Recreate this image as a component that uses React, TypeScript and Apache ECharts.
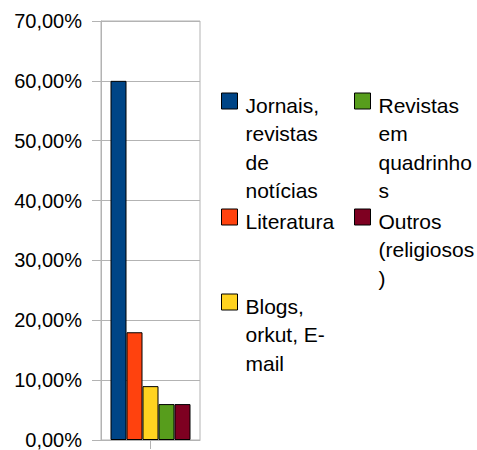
import React, { useEffect, useRef } from "react";
import * as echarts from "echarts";

const categories = [""];
const seriesNames = [
  "Jornais, revistas de notícias",
  "Literatura",
  "Blogs, orkut, E-mail",
  "Revistas em quadrinhos",
  "Outros (religiosos)",
];
const seriesLabels = [
  "Jornais,\nrevistas\nde\nnotícias",
  "Literatura",
  "Blogs,\norkut, E-\nmail",
  "Revistas\nem\nquadrinho\ns",
  "Outros\n(religiosos\n)",
];
const seriesValues = [60, 18, 9, 6, 6];
const seriesColors = ["#004586", "#ff420e", "#ffd320", "#579d1c", "#7e0021"];
const yTicks = [0, 10, 20, 30, 40, 50, 60, 70];

const FONT = "'Liberation Sans', Arial, sans-serif";
const LH = 28.5;
const D = 4;

export default function App() {
  const ref = useRef<HTMLDivElement>(null);
  useEffect(() => {
    if (!ref.current) return;
    const chart = echarts.init(ref.current, undefined, { renderer: "svg" });
    const labelOf = (name: string) => seriesLabels[seriesNames.indexOf(name)] ?? name;
    const lineCount = (name: string) => labelOf(name).split("\n").length;

    // legend placement: [series index, left, icon top]
    const legendPlaces: [number, number, number][] = [
      [0, 221, 93],
      [1, 221, 209],
      [2, 221, 294],
      [3, 354, 93],
      [4, 354, 209],
    ];
    const legends = legendPlaces.map(([i, left, iconTop]) => {
      const name = seriesNames[i];
      const n = lineCount(name);
      const P = (n - 1) * LH + 2 * D;
      const H = n * LH + P;
      const top = iconTop - (H / 2 - 8);
      return {
        show: true,
        orient: "vertical",
        left,
        top,
        padding: 0,
        itemWidth: 16,
        itemHeight: 16,
        itemGap: 0,
        selectedMode: false,
        icon: "rect",
        itemStyle: { borderColor: "#000", borderWidth: 1 },
        formatter: labelOf,
        data: [
          {
            name,
            textStyle: {
              fontFamily: FONT,
              fontSize: 21,
              color: "#000",
              lineHeight: LH,
              padding: [P, 0, 0, 3],
              backgroundColor: "transparent",
              rich: { x: {} },
            },
          },
        ],
      };
    });

    chart.setOption({
      animation: false,
      backgroundColor: "#fff",
      grid: {
        left: 101,
        top: 21,
        width: 99,
        height: 419,
        containLabel: false,
        outerBoundsMode: "none",
        show: true,
        borderColor: "#b3b3b3",
        borderWidth: 1,
      },
      legend: legends,
      xAxis: {
        type: "category",
        data: categories,
        axisLine: { show: true, lineStyle: { color: "#b3b3b3", width: 1 } },
        axisTick: { show: true, alignWithLabel: true, length: 9, lineStyle: { color: "#b3b3b3" } },
        axisLabel: { show: false },
        splitLine: { show: false },
      },
      yAxis: {
        type: "value",
        min: yTicks[0],
        max: yTicks[yTicks.length - 1],
        interval: 10,
        axisLine: { show: true, lineStyle: { color: "#b3b3b3", width: 1 } },
        axisTick: { show: true, length: 9, lineStyle: { color: "#b3b3b3" } },
        splitLine: { show: true, lineStyle: { color: "#b3b3b3", width: 1 } },
        axisLabel: {
          margin: 19,
          fontFamily: FONT,
          fontSize: 20,
          color: "#000",
          formatter: (v: number) => v.toFixed(2).replace(".", ",") + "%",
        },
      },
      series: seriesNames.map((name, i) => ({
        type: "bar",
        name,
        data: [seriesValues[i]],
        barWidth: 16,
        barGap: "0%",
        itemStyle: { color: seriesColors[i], borderColor: "#000", borderWidth: 1 },
      })),
    });
    return () => chart.dispose();
  }, []);
  return (
    <div
      ref={ref}
      style={{ position: "fixed", left: 0, top: 0, width: 477, height: 450, background: "#fff" }}
    />
  );
}
